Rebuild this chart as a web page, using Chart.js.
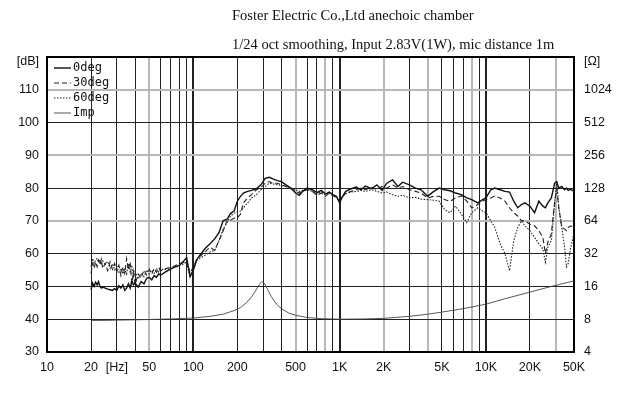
<!DOCTYPE html>
<html>
<head>
    <meta charset="UTF-8">
    <title>Foster frequency response</title>
    <script src="https://cdn.jsdelivr.net/npm/chart.js"></script>
    <style>
        body {
            margin: 0;
            background: #fff;
        }

        .wrap {
            position: relative;
            width: 620px;
            height: 394px;
        }

        .title {
            position: absolute;
            left: 232px;
            top: 1px;
            font-family: "Liberation Serif", serif;
            font-size: 14.5px;
            line-height: 29px;
            color: #111;
            white-space: nowrap;
        }
    </style>
</head>
<body>
    <div class="wrap">
        <canvas id="fr" width="620" height="394"></canvas>
        <div class="title">Foster Electric Co.,Ltd anechoic chamber<br>1/24 oct smoothing, Input 2.83V(1W), mic distance 1m</div>
    </div>

    <script>
        // frequency points (Hz) shared by the three SPL curves
        var freqs = [20, 20.5, 21, 21.5, 22, 22.5, 23, 23.5, 24, 25, 26, 27, 28, 29, 30, 31, 32, 33, 34, 35,
            36, 37, 38, 39, 40, 42, 44, 46, 48, 50, 52, 54, 56, 58, 60,
            65, 70, 75, 80, 85, 90, 95, 100, 105, 110, 120, 130, 140, 150, 160, 170, 180, 190, 200, 210, 220,
            235, 250, 270, 290, 310, 330, 350, 375, 400, 430, 460, 500, 530, 560, 600, 650, 700, 750, 800, 850,
            900, 950, 1000, 1050, 1100, 1200, 1300, 1400, 1500, 1650, 1800, 1950, 2100, 2300, 2500, 2700, 3000, 3300, 3600, 4000,
            4400, 4800, 5200, 5700, 6200, 6800, 7400, 8000, 8800, 9500, 10000, 10800, 11500, 12500, 13500, 14500, 15500, 16500, 17500, 18500,
            20000, 21500, 23000, 24500, 25500, 26500, 28000, 29500, 30500, 31500, 33000, 34500, 35500, 36500, 38000, 40000];

        // SPL in dB
        var spl0 = [49, 51, 50, 51.3, 50.5, 51.5, 50, 49.5, 49.8, 49.5, 49.2, 49, 48.8, 49.3, 48.8, 50.2, 49.5, 50.5, 48.8, 49.5,
            50.8, 49.5, 51.8, 50.5, 51, 49.8, 51.5, 50.8, 52.5, 52.8, 52, 53.3, 52.8, 53.8, 53.5,
            54.5, 55.3, 56, 56.4, 57.5, 58.8, 53, 55, 58, 59.3, 61.5, 63, 64.5, 66.5, 70, 70.5, 72.3, 73, 76, 77.5, 78.5,
            79, 79.3, 79.8, 81, 83, 83.3, 82.8, 82.3, 82, 81, 80.2, 78.5, 77.8, 79, 80, 79.5, 78.6, 79.3, 78.2, 78.8,
            78, 77.5, 75.5, 77.5, 79, 79.8, 80.3, 79.5, 80.6, 79.8, 81, 79.3, 81.5, 82.5, 80.5, 81.8, 81, 80, 79.5, 77.5,
            79, 80, 79.5, 79.2, 78.5, 78, 77, 76.5, 75.5, 76.5, 77, 79.5, 80, 79.5, 79, 78.8, 76, 74, 75, 75.5,
            74.5, 72.5, 76, 74.5, 74, 75.5, 77, 81.5, 82, 80, 80.5, 79.5, 80, 79.3, 79.6, 79];

        var spl30 = [54, 57, 55.5, 57.5, 56, 58, 56.5, 58.3, 55.5, 57, 54.8, 57.5, 55.2, 57, 54.5, 56.5, 53.3, 56, 54, 58.5,
            55, 57.5, 51, 54.5, 50.5, 53.8, 52.5, 55, 53.5, 55.2, 53.8, 55.5, 54.3, 55.8, 54.8,
            55.5, 55.8, 56.3, 56.9, 57.2, 58, 54, 56, 58, 59, 60.5, 62, 61, 64, 67, 70, 70.3, 70.8, 71, 72, 75.5,
            77, 78, 79.5, 80.2, 81.5, 82, 81.5, 81.5, 81, 80.5, 80, 79, 78.5, 79, 79.5, 79, 77.8, 78.5, 77.5, 78.5,
            77.8, 77, 76, 77.5, 78.5, 79, 79.5, 80, 79.5, 80.2, 79.5, 80.5, 80, 81, 80, 80.5, 79.5, 79, 78.5, 77,
            77.5, 77.5, 76.5, 76, 77, 77.6, 76, 74, 75, 76, 76.5, 77, 77.6, 77, 76, 74, 72.5, 71.5, 70, 70,
            69, 68.5, 67, 65, 60, 63.5, 66, 76, 79.5, 74, 68, 67.5, 67, 68, 68.5, 68];

        var spl60 = [56, 58.5, 57, 58, 58.6, 57.5, 58.2, 57, 57.8, 56.8, 57.6, 55.5, 56.9, 55, 56, 54.3, 55.5, 53.8, 55.2, 53.8,
            57, 54.5, 56, 53, 54.5, 52.3, 54, 53, 55, 53.8, 55, 54, 55.5, 54.3, 55.2,
            55.2, 55.5, 55.8, 56.3, 56.8, 57.4, 52.8, 54.5, 57.9, 58.5, 59.5, 60.5, 61, 64, 67.5, 69.5, 71.5, 72.3, 72.8, 73, 74,
            75.5, 77, 78, 79.5, 80.5, 81.5, 81.3, 81, 80.8, 80.5, 80, 79.5, 79, 79.3, 79.5, 79, 78.3, 78.8, 78, 78.5,
            77.5, 77.3, 76.5, 77.5, 78.3, 78.8, 79, 79.3, 79, 79.5, 79, 78.5, 78.8, 78, 77.5, 77.8, 77, 77.2, 76.6, 76.5,
            76.3, 76, 73.5, 72.5, 74.5, 72, 69.5, 72.5, 74, 73, 72.5, 70, 68, 63, 60, 54.8, 64, 68, 70, 68.5,
            67, 65, 63, 61.5, 57.4, 62, 64, 75, 82, 74, 68, 62, 56, 57, 62, 66];

        // impedance in ohm
        var impFreqs = [20, 25, 30, 40, 50, 70, 100, 130, 160, 190, 210, 230, 250, 270, 285, 295, 305, 320, 340, 370,
            400, 450, 500, 600, 750, 1000, 1500, 2000, 3000, 4000, 5000, 7000, 10000, 14000, 20000, 28000, 40000];
        var imp = [7.8, 7.8, 7.85, 7.9, 7.95, 8.05, 8.2, 8.5, 8.9, 9.6, 10.2, 11.3, 12.8, 15, 17, 17.7, 17.2, 15.3, 13, 11,
            10, 9.1, 8.7, 8.3, 8.1, 8.0, 8.05, 8.15, 8.5, 8.9, 9.3, 10, 11, 12.5, 14.2, 16, 18];

        // axis ticks
        var xGridValues = [10, 20, 30, 40, 50, 60, 70, 80, 90, 100, 200, 300, 400, 500, 600, 700, 800, 900,
            1000, 2000, 3000, 4000, 5000, 6000, 7000, 8000, 9000, 10000, 20000, 30000, 40000];
        var xTickValues = [10, 20, 30, 50, 100, 200, 500, 1000, 2000, 5000, 10000, 20000, 40000];
        var xTickLabels = ['10', '20', '[Hz]', '50', '100', '200', '500', '1K', '2K', '5K', '10K', '20K', '50K'];
        var dbTicks = [30, 40, 50, 60, 70, 80, 90, 100, 110, 120];
        var dbLabels = ['30', '40', '50', '60', '70', '80', '90', '100', '110', '[dB]'];
        var ohmTicks = [4, 8, 16, 32, 64, 128, 256, 512, 1024, 2048];
        var ohmLabels = ['4', '8', '16', '32', '64', '128', '256', '512', '1024', '[\u03a9]'];

        function pts(xs, ys) {
            return xs.map(function (f, i) { return { x: f, y: ys[i] }; });
        }

        // unit labels sit a little under the top edge
        function unitLabel(lbl, isTop) {
            return isTop ? ['', lbl] : lbl;
        }

        // lines drawn light grey in the original plot
        var greyX = [50, 500, 800, 2000, 4000, 8000, 30000];
        var greyY = [70, 90, 110];

        // legend drawn inside the plot, top left
        var innerLegend = {
            id: 'innerLegend',
            afterDatasetsDraw: function (chart) {
                var ctx = chart.ctx;
                var a = chart.chartArea;
                ctx.save();
                ctx.font = '12px "DejaVu Sans Mono", monospace';
                ctx.textBaseline = 'middle';
                ctx.fillStyle = '#111';
                chart.data.datasets.forEach(function (ds, i) {
                    var y = a.top + 11 + i * 15;
                    ctx.strokeStyle = ds.borderColor;
                    ctx.lineWidth = ds.borderWidth;
                    ctx.setLineDash(ds.borderDash || []);
                    ctx.beginPath();
                    ctx.moveTo(a.left + 7, y);
                    ctx.lineTo(a.left + 24, y);
                    ctx.stroke();
                    ctx.fillText(ds.label, a.left + 26, y);
                });
                ctx.restore();
            }
        };

        var tickFont = { family: '"Liberation Sans", sans-serif', size: 12.5, lineHeight: 0.8 };

        new Chart(document.getElementById('fr'), {
            type: 'line',
            data: {
                datasets: [
                    { label: '0deg', data: pts(freqs, spl0), yAxisID: 'y', borderColor: '#111', borderWidth: 1.4 },
                    { label: '30deg', data: pts(freqs, spl30), yAxisID: 'y', borderColor: '#222', borderWidth: 1.1, borderDash: [5, 3] },
                    { label: '60deg', data: pts(freqs, spl60), yAxisID: 'y', borderColor: '#222', borderWidth: 1.1, borderDash: [1.5, 1.5] },
                    { label: 'Imp', data: pts(impFreqs, imp), yAxisID: 'yR', borderColor: '#444', borderWidth: 0.9 }
                ]
            },
            options: {
                responsive: false,
                animation: false,
                layout: { padding: { top: 57, left: 0, right: 0, bottom: 0 } },
                elements: { point: { radius: 0 }, line: { tension: 0, fill: false } },
                plugins: { legend: { display: false }, tooltip: { enabled: false } },
                scales: {
                    x: {
                        type: 'logarithmic',
                        min: 10,
                        max: 40000,
                        afterBuildTicks: function (s) { s.ticks = xGridValues.map(function (v) { return { value: v }; }); },
                        afterFit: function (s) { s.height = 42; },
                        ticks: {
                            autoSkip: false,
                            maxRotation: 0,
                            padding: 8,
                            color: '#111',
                            font: { family: '"Liberation Sans", sans-serif', size: 12.5 },
                            callback: function (v) {
                                var i = xTickValues.indexOf(v);
                                return i >= 0 ? xTickLabels[i] : '';
                            }
                        },
                        grid: {
                            drawTicks: false,
                            color: function (c) {
                                var v = c.tick && c.tick.value;
                                if (greyX.indexOf(v) >= 0) return '#b8b8b8';
                                return '#222';
                            },
                            lineWidth: function (c) {
                                var v = c.tick && c.tick.value;
                                if (v === 100 || v === 1000 || v === 10000 || v === 40000) return 2;
                                if (greyX.indexOf(v) >= 0) return 2;
                                return 1;
                            }
                        },
                        border: { color: '#000', width: 2 }
                    },
                    y: {
                        position: 'left',
                        min: 30,
                        max: 120,
                        afterBuildTicks: function (s) { s.ticks = dbTicks.map(function (v) { return { value: v }; }); },
                        afterFit: function (s) { s.width = 47; },
                        ticks: {
                            padding: 8,
                            color: '#111',
                            font: tickFont,
                            callback: function (v) {
                                var i = dbTicks.indexOf(v);
                                return i >= 0 ? unitLabel(dbLabels[i], i === dbTicks.length - 1) : '';
                            }
                        },
                        grid: {
                            drawTicks: false,
                            color: function (c) {
                                var v = c.tick && c.tick.value;
                                if (greyY.indexOf(v) >= 0) return '#b8b8b8';
                                if (v === 120) return '#000';
                                return '#222';
                            },
                            lineWidth: function (c) {
                                var v = c.tick && c.tick.value;
                                if (greyY.indexOf(v) >= 0 || v === 120) return 2;
                                return 1;
                            }
                        },
                        border: { color: '#000', width: 2 }
                    },
                    yR: {
                        type: 'logarithmic',
                        position: 'right',
                        min: 4,
                        max: 2048,
                        afterBuildTicks: function (s) { s.ticks = ohmTicks.map(function (v) { return { value: v }; }); },
                        afterFit: function (s) { s.width = 46; },
                        ticks: {
                            padding: 10,
                            color: '#111',
                            font: tickFont,
                            callback: function (v) {
                                var i = ohmTicks.indexOf(v);
                                return i >= 0 ? unitLabel(ohmLabels[i], i === ohmTicks.length - 1) : '';
                            }
                        },
                        grid: { display: false, drawTicks: false },
                        border: { color: '#000', width: 2 }
                    }
                }
            },
            plugins: [innerLegend]
        });
    </script>
</body>
</html>
